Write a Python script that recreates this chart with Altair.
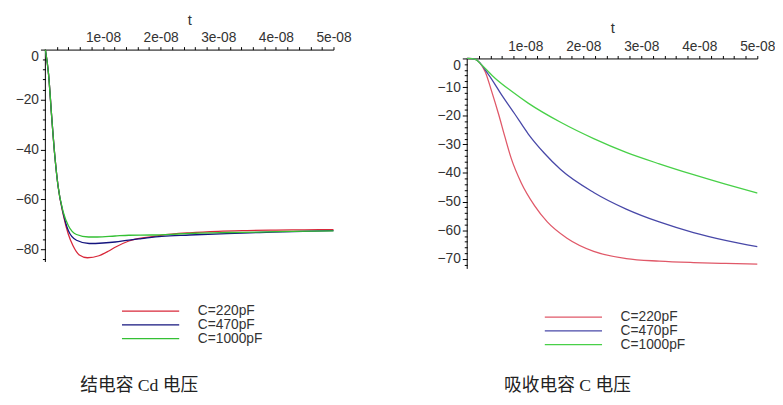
import altair as alt
import pandas as pd

# ---------------- data (t in units of 1e-8 s, voltage in V) ----------------
SERIES = ["C=220pF", "C=470pF", "C=1000pF"]

# Left panel: junction capacitance Cd voltage
L_T_220 = [0, 0.056, 0.11, 0.165, 0.22, 0.31, 0.40, 0.48, 0.59, 0.73, 0.93, 1.10, 1.22, 1.45, 1.79, 2.0, 2.5, 3.0, 3.5, 4.0, 4.5, 5.0]
L_V_220 = [0, -10, -27, -42.8, -54.6, -66, -74, -78.5, -82.2, -83.3, -82.5, -80.6, -79.0, -76.6, -75, -74.3, -73.3, -72.7, -72.4, -72.2, -72.1, -72.0]
L_T_470 = [0, 0.056, 0.11, 0.165, 0.22, 0.31, 0.40, 0.54, 0.76, 1.0, 1.21, 1.45, 1.67, 2.02, 2.5, 3.15, 3.72, 4.3, 5.0]
L_V_470 = [0, -10, -27, -42.8, -54.6, -65.5, -72.5, -76.3, -77.6, -77.4, -77.0, -76.2, -75.6, -74.7, -74.2, -73.6, -73.2, -72.8, -72.4]
L_T_1000 = [0, 0.056, 0.11, 0.165, 0.22, 0.31, 0.40, 0.54, 0.75, 0.9, 1.21, 1.45, 1.84, 2.3, 2.6, 3.2, 3.72, 4.3, 5.0]
L_V_1000 = [0, -10, -27, -42.8, -54.6, -65, -70.5, -74.0, -75.0, -75.0, -74.6, -74.3, -74.2, -73.8, -73.5, -73.2, -73.0, -72.7, -72.5]

# Right panel: snubber capacitance C voltage
R_T_220 = [0, 0.14, 0.22, 0.31, 0.42, 0.54, 0.65, 0.76, 0.93, 1.16, 1.38, 1.72, 2.18, 2.74, 3.31, 3.9, 4.45, 5.0]
R_V_220 = [0, -0.3, -1.6, -4.6, -11.4, -19.4, -27.4, -35.0, -43.4, -51.4, -57.1, -62.8, -67.4, -69.9, -70.8, -71.3, -71.6, -71.8]
R_T_470 = [0, 0.14, 0.37, 0.59, 0.82, 1.05, 1.33, 1.61, 2.18, 2.74, 3.31, 3.9, 4.45, 5.0]
R_V_470 = [0, -0.3, -5.7, -12.6, -19.4, -26.3, -33.1, -38.8, -46.8, -52.6, -57.1, -60.8, -63.5, -65.7]
R_T_1000 = [0, 0.14, 0.25, 0.48, 0.76, 1.05, 1.61, 2.18, 2.74, 3.31, 3.9, 4.45, 5.0]
R_V_1000 = [0, -0.3, -2.3, -6.9, -11.4, -15.6, -22.3, -28.0, -32.8, -36.8, -40.6, -43.9, -47.0]

# axis ticks
X_TICKS = [0.2, 0.4, 0.6, 0.8, 1.0, 1.2, 1.4, 1.6, 1.8, 2.0, 2.2, 2.4, 2.6, 2.8, 3.0,
           3.2, 3.4, 3.6, 3.8, 4.0, 4.2, 4.4, 4.6, 4.8, 5.0]
X_LABELS = [1, 2, 3, 4, 5]
L_Y_TICKS = [0, -4, -8, -12, -16, -20, -24, -28, -32, -36, -40, -44, -48, -52, -56, -60,
             -64, -68, -72, -76, -80, -84]
L_Y_LABELS = [0, -20, -40, -60, -80]
R_Y_TICKS = [0, -2, -4, -6, -8, -10, -12, -14, -16, -18, -20, -22, -24, -26, -28, -30,
             -32, -34, -36, -38, -40, -42, -44, -46, -48, -50, -52, -54, -56, -58, -60,
             -62, -64, -66, -68, -70, -72]
R_Y_LABELS = [0, -10, -20, -30, -40, -50, -60, -70]

LEFT_COLORS = ["#d8283a", "#14147e", "#34c034"]
RIGHT_COLORS = ["#e05868", "#4848a8", "#48d048"]

LEFT_CAPTION = "结电容 Cd 电压"
RIGHT_CAPTION = "吸收电容 C 电压"

SANS = "Liberation Sans"
CAP_FONT = "Liberation Serif, Noto Sans CJK SC"
TXT = "#333333"
LEGEND_LINE = "M-9.7,0H9.7"


def frame(ts, vs):
    rows = []
    for name, t, v in zip(SERIES, ts, vs):
        for a, b in zip(t, v):
            rows.append({"t": a, "v": b, "C": name})
    return pd.DataFrame(rows)


left_df = frame([L_T_220, L_T_470, L_T_1000], [L_V_220, L_V_470, L_V_1000])
right_df = frame([R_T_220, R_T_470, R_T_1000], [R_V_220, R_V_470, R_V_1000])


def in_list(vals):
    return "indexof([" + ",".join(str(v) for v in vals) + "], round(datum.value*10)/10) >= 0"


def panel(df, colors, ydom, ybottom, yticks, ylabels, width, height, xoffset,
          caption, cap_x, cap_y, leg_x, leg_y):
    xlab_test = in_list(X_LABELS)
    ylab_test = in_list(ylabels)
    xscale = alt.Scale(domain=[0, 5], nice=False, zero=False)
    yscale = alt.Scale(domain=ydom, nice=False, zero=False)
    x_top = alt.X(
        "t:Q", scale=xscale,
        axis=alt.Axis(
            orient="top", values=X_TICKS, title="t", titleFont=SANS, titleFontSize=15,
            titleFontWeight="normal", titleColor=TXT, titlePadding=4, offset=xoffset,
            labelExpr=f"({xlab_test}) ? format(datum.value, 'd') + 'e-08' : ''",
            labelFont=SANS, labelFontSize=14, labelColor=TXT, labelPadding=2,
            labelOverlap=False, labelFlush=False, tickSize=3, tickColor="#000",
            domainColor="#000", grid=False,
        ),
    )
    y_axis = alt.Axis(
        orient="left", values=yticks, title=None,
        labelExpr=f"({ylab_test}) ? format(datum.value, 'd') : ''",
        labelFont=SANS, labelFontSize=14, labelColor=TXT, labelPadding=2,
        labelOverlap=False, labelFlush=False,
        labelBaseline={"condition": {"test": "datum.value == 0", "value": "top"}, "value": "middle"},
        tickSize={"condition": {"test": ylab_test, "value": 5}, "value": 3},
        tickColor="#000", domain=False, grid=False,
    )
    y_left = alt.Y("v:Q", scale=yscale, axis=y_axis)

    # vertical axis line from v = 0 down to the bottom of the scale
    axis_df = pd.DataFrame({"t": [0], "v": [0], "v2": [ybottom]})
    yline = alt.Chart(axis_df).mark_rule(color="#000", strokeWidth=1).encode(
        x=alt.X("t:Q", scale=xscale, axis=None),
        y=y_left,
        y2="v2:Q",
    )
    lines = alt.Chart(df).mark_line(strokeWidth=1.3, interpolate="monotone").encode(
        x=x_top,
        y=y_left,
        color=alt.Color(
            "C:N",
            sort=SERIES,
            scale=alt.Scale(domain=SERIES, range=colors),
            legend=alt.Legend(
                orient="none", legendX=leg_x, legendY=leg_y, title=None,
                symbolType=LEGEND_LINE, symbolSize=36, symbolStrokeWidth=1.3,
                labelFont=SANS, labelFontSize=14, labelColor=TXT, labelOffset=41,
                rowPadding=-3.5, padding=0, labelLimit=0,
            ),
        ),
        order=alt.Order("t:Q"),
    )
    cap = alt.Chart(df).mark_point(opacity=0).encode(
        x=alt.X(
            "t:Q", scale=xscale,
            axis=alt.Axis(
                orient="bottom", domain=False, ticks=False, labels=False, grid=False,
                title=caption, titleFont=CAP_FONT, titleFontSize=18, titleFontWeight="normal",
                titleColor="#222", titleAlign="left", titleAnchor="start", titleBaseline="middle",
                titleX=cap_x, titleY=cap_y,
            ),
        ),
        y=y_left,
    )
    return alt.layer(yline, lines, cap).resolve_axis(x="independent").properties(
        width=width, height=height)


left = panel(left_df, LEFT_COLORS, [-85, 0], -85, L_Y_TICKS, L_Y_LABELS, 293, 216, 0,
             LEFT_CAPTION, 35, 126, 100, 259)
right = panel(right_df, RIGHT_COLORS, [-73.5, 3.1], -73.5, R_Y_TICKS, R_Y_LABELS, 295, 223, -9,
              RIGHT_CAPTION, 37, 119, 101, 265)

chart = alt.hconcat(left, right, spacing=87).resolve_scale(color="independent").properties(
    padding={"left": 7, "top": 1, "right": 0, "bottom": 0},
    background="white",
).configure_view(stroke=None)

chart.save("out.html", embed_options={"renderer": "svg", "actions": False})
